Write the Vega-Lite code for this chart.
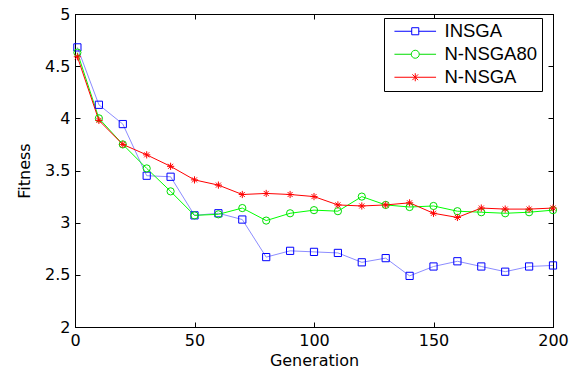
{
  "$schema": "https://vega.github.io/schema/vega-lite/v6.json",
  "autosize": {"type": "none"},
  "width": 478,
  "height": 313,
  "padding": {"left": 75, "top": 14, "right": 18, "bottom": 43},
  "background": "white",
  "config": {
    "font": "DejaVu Sans",
    "view": {"stroke": "black", "strokeWidth": 1},
    "axis": {"grid": false, "domainColor": "black", "tickColor": "black", "labelColor": "black", "titleColor": "black", "labelFont": "DejaVu Sans", "titleFont": "DejaVu Sans", "labelFontSize": 16, "titleFontSize": 16, "titleFontWeight": "normal", "tickSize": -5, "labelPadding": 10, "labelFlush": false, "labelOverlap": false}
  },
  "data": {"values": [
    {"g":1,"series":"INSGA","fitness":4.68},{"g":10,"series":"INSGA","fitness":4.13},{"g":20,"series":"INSGA","fitness":3.945},{"g":30,"series":"INSGA","fitness":3.45},{"g":40,"series":"INSGA","fitness":3.44},{"g":50,"series":"INSGA","fitness":3.07},{"g":60,"series":"INSGA","fitness":3.09},{"g":70,"series":"INSGA","fitness":3.03},{"g":80,"series":"INSGA","fitness":2.67},{"g":90,"series":"INSGA","fitness":2.73},{"g":100,"series":"INSGA","fitness":2.72},{"g":110,"series":"INSGA","fitness":2.71},{"g":120,"series":"INSGA","fitness":2.62},{"g":130,"series":"INSGA","fitness":2.66},{"g":140,"series":"INSGA","fitness":2.49},{"g":150,"series":"INSGA","fitness":2.58},{"g":160,"series":"INSGA","fitness":2.63},{"g":170,"series":"INSGA","fitness":2.58},{"g":180,"series":"INSGA","fitness":2.53},{"g":190,"series":"INSGA","fitness":2.58},{"g":200,"series":"INSGA","fitness":2.59},
    {"g":1,"series":"N-NSGA80","fitness":4.63},{"g":10,"series":"N-NSGA80","fitness":4.0},{"g":20,"series":"N-NSGA80","fitness":3.75},{"g":30,"series":"N-NSGA80","fitness":3.52},{"g":40,"series":"N-NSGA80","fitness":3.3},{"g":50,"series":"N-NSGA80","fitness":3.07},{"g":60,"series":"N-NSGA80","fitness":3.08},{"g":70,"series":"N-NSGA80","fitness":3.14},{"g":80,"series":"N-NSGA80","fitness":3.02},{"g":90,"series":"N-NSGA80","fitness":3.09},{"g":100,"series":"N-NSGA80","fitness":3.12},{"g":110,"series":"N-NSGA80","fitness":3.11},{"g":120,"series":"N-NSGA80","fitness":3.25},{"g":130,"series":"N-NSGA80","fitness":3.17},{"g":140,"series":"N-NSGA80","fitness":3.15},{"g":150,"series":"N-NSGA80","fitness":3.16},{"g":160,"series":"N-NSGA80","fitness":3.11},{"g":170,"series":"N-NSGA80","fitness":3.1},{"g":180,"series":"N-NSGA80","fitness":3.09},{"g":190,"series":"N-NSGA80","fitness":3.1},{"g":200,"series":"N-NSGA80","fitness":3.12},
    {"g":1,"series":"N-NSGA","fitness":4.59},{"g":10,"series":"N-NSGA","fitness":3.98},{"g":20,"series":"N-NSGA","fitness":3.75},{"g":30,"series":"N-NSGA","fitness":3.65},{"g":40,"series":"N-NSGA","fitness":3.54},{"g":50,"series":"N-NSGA","fitness":3.41},{"g":60,"series":"N-NSGA","fitness":3.36},{"g":70,"series":"N-NSGA","fitness":3.27},{"g":80,"series":"N-NSGA","fitness":3.28},{"g":90,"series":"N-NSGA","fitness":3.27},{"g":100,"series":"N-NSGA","fitness":3.25},{"g":110,"series":"N-NSGA","fitness":3.17},{"g":120,"series":"N-NSGA","fitness":3.16},{"g":130,"series":"N-NSGA","fitness":3.17},{"g":140,"series":"N-NSGA","fitness":3.19},{"g":150,"series":"N-NSGA","fitness":3.09},{"g":160,"series":"N-NSGA","fitness":3.05},{"g":170,"series":"N-NSGA","fitness":3.14},{"g":180,"series":"N-NSGA","fitness":3.13},{"g":190,"series":"N-NSGA","fitness":3.13},{"g":200,"series":"N-NSGA","fitness":3.14}
  ]},
  "layer": [
    {
      "mark": {"type": "line", "strokeWidth": 1},
      "encoding": {
        "x": {"field": "g", "type": "quantitative", "scale": {"domain": [0, 200], "nice": false, "zero": false, "padding": 0},
              "axis": {"values": [0, 50, 100, 150, 200], "title": "Generation", "titlePadding": 4}},
        "y": {"field": "fitness", "type": "quantitative", "scale": {"domain": [2, 5], "nice": false, "zero": false, "padding": 0},
              "axis": {"values": [2, 2.5, 3, 3.5, 4, 4.5, 5], "format": "~g", "title": "Fitness", "titlePadding": 12}},
        "stroke": {"field": "series", "type": "nominal", "legend": null,
                   "scale": {"domain": ["INSGA", "N-NSGA80", "N-NSGA"], "range": ["#8c8cff", "#00ff00", "#ff0000"]}}
      }
    },
    {
      "mark": {"type": "point", "filled": false, "strokeWidth": 1, "opacity": 1},
      "encoding": {
        "x": {"field": "g", "type": "quantitative", "scale": {"domain": [0, 200], "nice": false, "zero": false, "padding": 0},
              "axis": {"orient": "top", "values": [0, 50, 100, 150, 200], "labels": false, "title": null}},
        "y": {"field": "fitness", "type": "quantitative", "scale": {"domain": [2, 5], "nice": false, "zero": false, "padding": 0},
              "axis": {"orient": "right", "values": [2, 2.5, 3, 3.5, 4, 4.5, 5], "labels": false, "title": null}},
        "color": {"field": "series", "type": "nominal", "sort": ["INSGA", "N-NSGA80", "N-NSGA"],
                  "scale": {"range": ["#0000ff", "#00dd00", "#ff0000"]},
                  "legend": {"title": null, "orient": "none", "legendX": 309, "legendY": 4,
                             "padding": 4, "symbolOffset": 18, "labelOffset": 20, "rowPadding": 4,
                             "symbolSize": 256, "symbolStrokeWidth": 1, "symbolFillColor": "transparent",
                             "labelFont": "Liberation Sans", "labelFontSize": 18.5, "labelColor": "black",
                             "strokeColor": "black", "fillColor": "white",
                             "symbolType": {"expr": "datum.value === 'INSGA' ? 'M-2.6,0H-0.44M0.44,0H2.6M-0.44,-0.44H0.44V0.44H-0.44Z' : datum.value === 'N-NSGA80' ? 'M-2.6,0H-0.5M0.5,0H2.6M-0.5,0A0.5,0.5 0 1,0 0.5,0A0.5,0.5 0 1,0 -0.5,0' : 'M-2.6,0H2.6M0,-0.5V0.5M-0.36,-0.36L0.36,0.36M-0.36,0.36L0.36,-0.36'"}}},
        "shape": {"field": "series", "type": "nominal", "sort": ["INSGA", "N-NSGA80", "N-NSGA"], "legend": null,
                  "scale": {"range": ["square", "circle", "M-1,0L1,0M0,-1L0,1M-0.7,-0.7L0.7,0.7M-0.7,0.7L0.7,-0.7"]}},
        "size": {"value": 52}
      }
    }
  ],
  "resolve": {"axis": {"x": "independent", "y": "independent"}}
}
